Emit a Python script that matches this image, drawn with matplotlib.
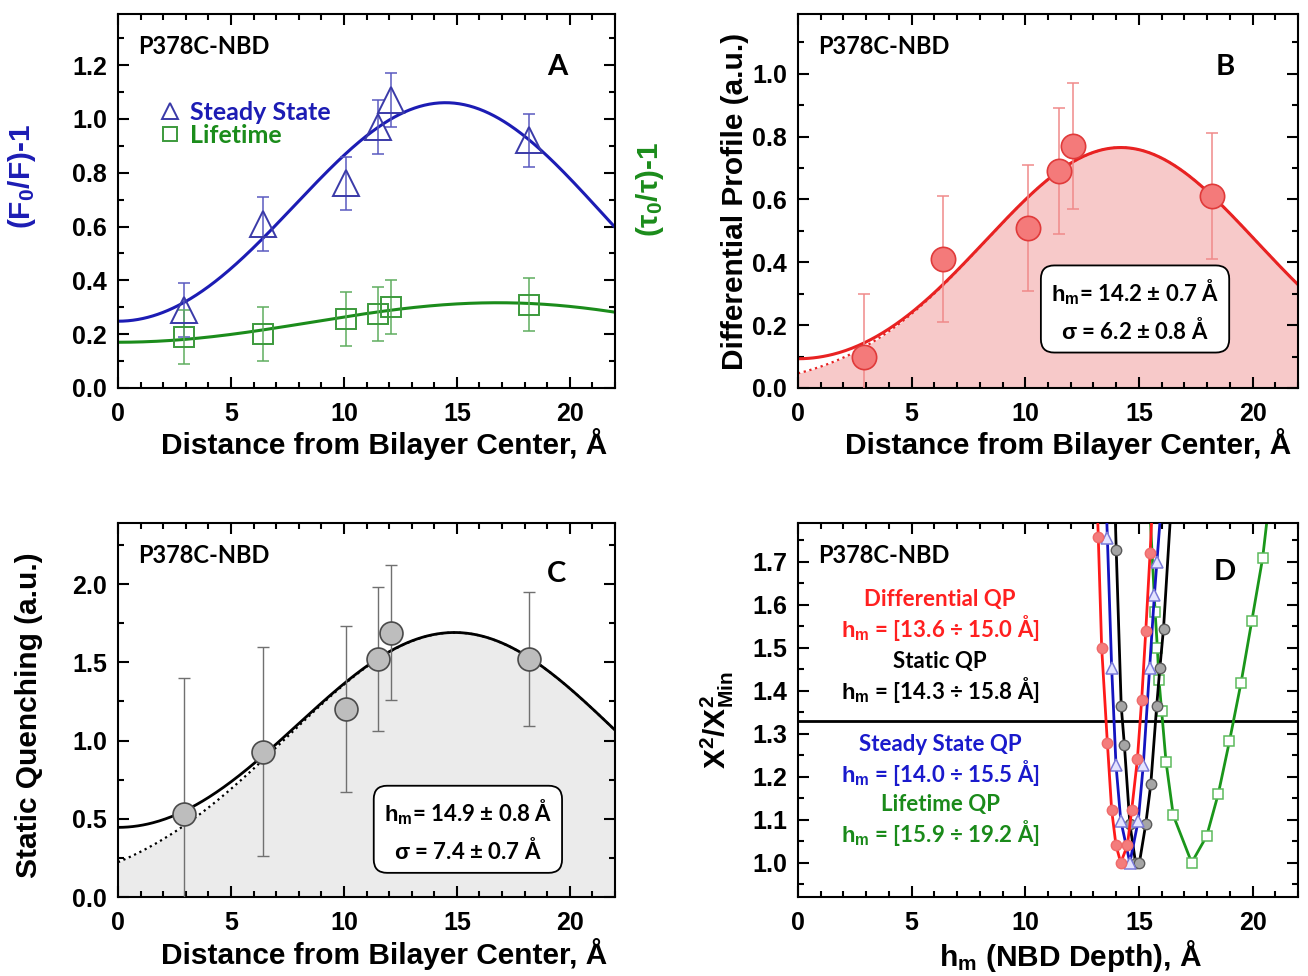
import numpy as np
import matplotlib
matplotlib.use("Agg")
import matplotlib.pyplot as plt
from matplotlib.ticker import MultipleLocator, FormatStrFormatter
from matplotlib.lines import Line2D

plt.rcParams['font.family'] = ['Liberation Sans', 'DejaVu Sans']
plt.rcParams['font.weight'] = 'bold'
plt.rcParams['axes.labelweight'] = 'bold'
plt.rcParams['mathtext.fontset'] = 'custom'
plt.rcParams['mathtext.rm'] = 'Liberation Sans'
plt.rcParams['mathtext.bf'] = 'Liberation Sans:bold'
plt.rcParams['mathtext.it'] = 'Liberation Sans:bold'
plt.rcParams['mathtext.default'] = 'bf'

LABEL_FONT = ['Lato', 'DejaVu Sans']

# ---- data ----
depth = [2.9, 6.4, 10.1, 11.5, 12.1, 18.2]

ss_val = [0.29, 0.61, 0.76, 0.97, 1.07, 0.92]      # steady state (F0/F)-1
ss_err = [0.10, 0.10, 0.10, 0.10, 0.10, 0.10]
lt_val = [0.19, 0.20, 0.255, 0.275, 0.30, 0.31]    # lifetime (tau0/tau)-1
lt_err = [0.10, 0.10, 0.10, 0.10, 0.10, 0.10]

diff_val = [0.10, 0.41, 0.51, 0.69, 0.77, 0.61]    # differential profile
diff_err = [0.20, 0.20, 0.20, 0.20, 0.20, 0.20]

stat_val = [0.53, 0.93, 1.20, 1.52, 1.69, 1.52]    # static quenching
stat_err = [0.87, 0.665, 0.53, 0.46, 0.43, 0.43]

# fitted gaussian parameters (amplitude, h_m, sigma) as drawn
ss_fit = (1.06, 14.5, 7.0)
lt_fit = (0.315, 17.0, 10.5)
diff_fit = (0.765, 14.2, 6.0)
stat_fit = (1.69, 14.9, 7.4)

# chi^2 / chi^2_min scans (panel D)
red_h = [13.05, 13.21, 13.36, 13.61, 13.80, 13.99, 14.20, 14.49, 14.68, 14.93, 15.12, 15.30, 15.49, 15.70]
red_chi = [2.03, 1.758, 1.50, 1.279, 1.122, 1.04, 1.0, 1.04, 1.122, 1.24, 1.379, 1.539, 1.72, 1.95]

blue_h = [13.45, 13.61, 13.80, 13.99, 14.20, 14.60, 14.97, 15.19, 15.47, 15.68, 15.79, 16.05]
blue_chi = [2.01, 1.756, 1.453, 1.227, 1.098, 1.0, 1.098, 1.227, 1.453, 1.623, 1.70, 1.88]

black_h = [13.85, 14.00, 14.22, 14.36, 14.60, 14.85, 15.02, 15.30, 15.52, 15.78, 15.92, 16.08, 16.45]
black_chi = [2.0, 1.727, 1.364, 1.273, 1.09, 1.0, 1.0, 1.09, 1.182, 1.364, 1.453, 1.544, 1.86]

green_h = [15.45, 15.71, 15.81, 15.88, 16.00, 16.19, 16.51, 17.32, 17.98, 18.49, 18.98, 19.49, 19.96, 20.44, 20.75]
green_chi = [1.85, 1.584, 1.50, 1.425, 1.352, 1.235, 1.11, 1.0, 1.062, 1.16, 1.282, 1.418, 1.561, 1.708, 1.85]

chi_cut = 1.33


def gauss(x, amp, hm, sig):
    return amp * np.exp(-(x - hm) ** 2 / (2 * sig ** 2))


def profile(x, amp, hm, sig):
    return gauss(x, amp, hm, sig) + gauss(x, amp, -hm, sig)


def style(ax, ylim, ymaj, ymin, yfmt):
    ax.set_xlim(0, 22)
    ax.set_ylim(*ylim)
    ax.xaxis.set_major_locator(MultipleLocator(5))
    ax.xaxis.set_minor_locator(MultipleLocator(1))
    ax.yaxis.set_major_locator(MultipleLocator(ymaj))
    ax.yaxis.set_minor_locator(MultipleLocator(ymin))
    ax.yaxis.set_major_formatter(FormatStrFormatter(yfmt))
    ax.tick_params(which='both', direction='in', top=True, right=True, width=1.5)
    ax.tick_params(which='major', length=8, labelsize=18)
    ax.tick_params(axis='x', which='major', pad=10)
    ax.tick_params(axis='y', which='major', pad=8)
    ax.tick_params(which='minor', length=4.5)
    for sp in ax.spines.values():
        sp.set_linewidth(1.5)


def tags(ax, letter, lx, ly):
    ax.text(0.04, 0.912, 'P378C-NBD', transform=ax.transAxes, fontsize=17,
            family=LABEL_FONT, weight='bold', va='center', ha='left')
    ax.text(lx, ly, letter, transform=ax.transAxes, fontsize=21,
            family=LABEL_FONT, weight='bold', va='center', ha='center')


fig = plt.figure(figsize=(13.08, 9.76), dpi=100)
axA = fig.add_axes([0.0902, 0.6025, 0.380, 0.3832])
axB = fig.add_axes([0.6101, 0.6025, 0.3823, 0.3832])
axC = fig.add_axes([0.0902, 0.0809, 0.380, 0.3832])
axD = fig.add_axes([0.6101, 0.0809, 0.3823, 0.3832])

xs = np.linspace(0, 22, 400)
xlabel = 'Distance from Bilayer Center, Å'

# ---- A ----
blue = '#1c1cb4'
green = '#1b8c1b'
axA.plot(xs, profile(xs, *ss_fit), color=blue, lw=2.2, zorder=2)
axA.plot(xs, profile(xs, *lt_fit), color=green, lw=2.2, zorder=2)
axA.errorbar(depth, ss_val, yerr=ss_err, fmt='none', ecolor='#5a5ac0', elinewidth=1.1,
             capsize=4, capthick=1.1, zorder=3)
axA.errorbar(depth, lt_val, yerr=lt_err, fmt='none', ecolor='#5fae5f', elinewidth=1.1,
             capsize=4, capthick=1.1, zorder=3)
axA.plot(depth, ss_val, ls='none', marker='^', ms=19, mfc='none', mec='#3a3aa8', mew=1.4, zorder=4)
axA.plot(depth, lt_val, ls='none', marker='s', ms=15, mfc='none', mec='#3c9a3c', mew=1.4, zorder=4)
style(axA, (0, 1.39), 0.2, 0.1, '%.1f')
tags(axA, 'A', 0.883, 0.858)
handles = [Line2D([], [], ls='none', marker='^', ms=11, mfc='none', mec='#3a3aa8', mew=1.4),
           Line2D([], [], ls='none', marker='s', ms=10, mfc='none', mec='#3c9a3c', mew=1.4)]
axA.legend(handles, ['Steady State', 'Lifetime'], loc='upper left', bbox_to_anchor=(0.065, 0.795),
           frameon=False, handlelength=0.8, handletextpad=0.4, labelspacing=0.0,
           borderaxespad=0, labelcolor=[blue, green],
           prop={'family': LABEL_FONT, 'weight': 'bold', 'size': 18})
axA.set_xlabel(xlabel, fontsize=21.5)
axA.xaxis.set_label_coords(0.535, -0.108)
axA.set_ylabel('(F$_0$/F)-1', fontsize=21.5, color=blue)
axA.yaxis.set_label_coords(-0.16, 0.565)
axA.text(1.07, 0.53, '(τ$_0$/τ)-1', transform=axA.transAxes, rotation=90, fontsize=21.5,
         color=green, ha='center', va='center')

# ---- B ----
red = '#e82222'
axB.fill_between(xs, gauss(xs, *diff_fit), 0, color='#f7c9c9', lw=0, zorder=1)
axB.plot(xs, gauss(xs, *diff_fit), color=red, lw=1.6, ls=':', zorder=2)
axB.plot(xs, profile(xs, *diff_fit), color=red, lw=2.2, zorder=2)
axB.errorbar(depth, diff_val, yerr=diff_err, fmt='none', ecolor='#f08a8a', elinewidth=1.1,
             capsize=4, capthick=1.1, zorder=3)
axB.plot(depth, diff_val, ls='none', marker='o', ms=17.5, mfc='#f47a7a', mec='#e03a3a', mew=1.2, zorder=4)
style(axB, (0, 1.19), 0.2, 0.1, '%.1f')
tags(axB, 'B', 0.854, 0.858)
axB.set_xlabel(xlabel, fontsize=21.5)
axB.xaxis.set_label_coords(0.54, -0.108)
axB.set_ylabel('Differential Profile (a.u.)', fontsize=21.5)
axB.yaxis.set_label_coords(-0.098, 0.50)
axB.text(0.674, 0.209, '$h_m$= 14.2 ± 0.7 Å\n$\\sigma$ = 6.2 ± 0.8 Å', transform=axB.transAxes,
         fontsize=16, family=LABEL_FONT, weight='bold', ha='center', va='center', linespacing=1.45,
         bbox=dict(boxstyle='round,pad=0.45,rounding_size=0.6', fc='white', ec='black', lw=1.3))

# ---- C ----
axC.fill_between(xs, gauss(xs, *stat_fit), 0, color='#ebebeb', lw=0, zorder=1)
axC.plot(xs, gauss(xs, *stat_fit), color='black', lw=1.6, ls=':', zorder=2)
axC.plot(xs, profile(xs, *stat_fit), color='black', lw=2.0, zorder=2)
axC.errorbar(depth, stat_val, yerr=stat_err, fmt='none', ecolor='#707070', elinewidth=1.0,
             capsize=4, capthick=1.0, zorder=3)
axC.plot(depth, stat_val, ls='none', marker='o', ms=16.5, mfc='#bdbdbd', mec='#4a4a4a', mew=1.2, zorder=4)
style(axC, (0, 2.39), 0.5, 0.25, '%.1f')
tags(axC, 'C', 0.883, 0.864)
axC.set_xlabel(xlabel, fontsize=21.5)
axC.xaxis.set_label_coords(0.535, -0.11)
axC.set_ylabel('Static Quenching (a.u.)', fontsize=21.5)
axC.yaxis.set_label_coords(-0.15, 0.487)
axC.text(0.704, 0.179, '$h_m$= 14.9 ± 0.8 Å\n$\\sigma$ = 7.4 ± 0.7 Å', transform=axC.transAxes,
         fontsize=16, family=LABEL_FONT, weight='bold', ha='center', va='center', linespacing=1.45,
         bbox=dict(boxstyle='round,pad=0.45,rounding_size=0.6', fc='white', ec='black', lw=1.3))

# ---- D ----
axD.axhline(chi_cut, color='black', lw=2.0, zorder=1)
axD.plot(green_h, green_chi, color='#1a961a', lw=2.0, marker='s', ms=6.5, mfc='white', mec='#5cba5c', mew=1.1, zorder=2)
axD.plot(black_h, black_chi, color='black', lw=2.0, marker='o', ms=7.5, mfc='#a5a5a5', mec='#5a5a5a', mew=1.0, zorder=3)
axD.plot(blue_h, blue_chi, color='#1414c0', lw=2.0, marker='^', ms=8, mfc='#e4e4ff', mec='#7a7ad8', mew=1.1, zorder=4)
axD.plot(red_h, red_chi, color='#ff1a1a', lw=2.0, marker='o', ms=7.5, mfc='#f47c7c', mec='#ef6a6a', mew=1.0, zorder=5)
style(axD, (0.92, 1.79), 0.1, 0.05, '%.1f')
tags(axD, 'D', 0.854, 0.869)
axD.set_xlabel('$h_m$ (NBD Depth), Å', fontsize=21.5)
axD.xaxis.set_label_coords(0.545, -0.11)
axD.set_ylabel('$\\mathrm{X^2/X^2_{Min}}$', fontsize=21.5)
axD.yaxis.set_label_coords(-0.125, 0.473)
qp_text = [('Differential QP', 1.611, '#ff2020'), ('$h_m$ = [13.6 ÷ 15.0 Å]', 1.545, '#ff2020'),
           ('Static QP', 1.468, 'black'), ('$h_m$ = [14.3 ÷ 15.8 Å]', 1.402, 'black'),
           ('Steady State QP', 1.275, '#1a1acc'), ('$h_m$ = [14.0 ÷ 15.5 Å]', 1.209, '#1a1acc'),
           ('Lifetime QP', 1.135, '#1a8a1a'), ('$h_m$ = [15.9 ÷ 19.2 Å]', 1.07, '#1a8a1a')]
for s, yy, c in qp_text:
    axD.text(6.25, yy, s, color=c, fontsize=16, family=LABEL_FONT, weight='bold',
             ha='center', va='center')

fig.savefig('out.png', dpi=100)
